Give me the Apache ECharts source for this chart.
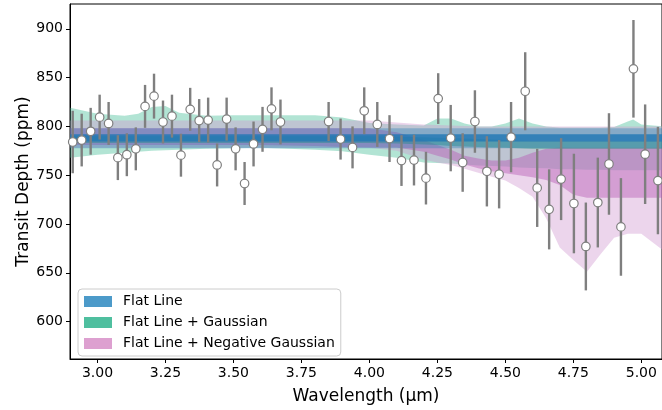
<!DOCTYPE html>
<html><head><meta charset="utf-8">
<script src="https://cdn.jsdelivr.net/npm/echarts@6.0.0/dist/echarts.min.js"></script>
<style>html,body{margin:0;padding:0;background:#fff}#c{width:662px;height:410px}</style>
</head><body><div id="c"></div>
<script>
// ---- observed spectrum ----
const wavelength = [2.909,2.942,2.975,3.008,3.041,3.075,3.108,3.141,3.175,3.208,3.241,3.274,3.307,3.341,3.374,3.407,3.440,3.475,3.508,3.541,3.574,3.607,3.640,3.673,
  3.850,3.894,3.938,3.981,4.029,4.074,4.118,4.164,4.208,4.253,4.299,4.343,4.388,4.432,4.477,4.521,4.573,4.617,4.661,4.705,4.752,4.796,4.840,4.881,4.925,4.971,5.014,5.061];
const depth = [784,786,795,809.5,803,768,771,777,820.5,831,804.5,810.5,770.5,817.5,806,806.5,760.5,807.5,777,741.5,782,797,818,804.5,
  805,787,778.5,816,802,787.5,765,765.5,747,828.5,788,763,805,754,751,789,836,737,715,746,721,677,722,761.5,697,859,771.5,744.5];
const depthErr = [32,27,24,23,22,23,22,22,22,23,22,22,22,22,22,23,22,22,22,22,23,23,22,23,
  20,21,21.5,24,23,24,26,26,27,26,34,30,32,36,35,36,40,40,41,42,51,45,46,52,50,50,51,55];

// ---- tick labels ----
const xTicks = [3.00,3.25,3.50,3.75,4.00,4.25,4.50,4.75,5.00];
const yTicks = [600,650,700,750,800,850,900];

// ---- model posterior bands ----
const flatX = [2.90, 5.08];
const flatInnerLo = [784.5, 784.5];
const flatInnerHi = [792, 792];
const flatOuterLo = [777.5, 777.5];
const flatOuterHi = [798, 798];

const bandX = [2.90,3.00,3.10,3.15,3.20,3.25,3.30,3.40,3.50,3.60,3.70,3.80,3.90,4.00,4.10,4.20,4.25,4.30,4.35,4.40,4.45,4.50,4.55,4.60,4.65,4.70,4.75,4.80,4.85,4.90,4.95,4.97,5.00,5.08];
const gaussOuterHi = [819,813,811,813,820,821,814,811,811.5,811.5,811.5,811.5,809,803.5,802,801,808,808,803,800,800,803,808,803,800,799,799,799,799,799.5,805,807,802,800];
const gaussOuterLo = [768,771,773,774,775,775.5,776,777,777.5,778,777,776,774.5,771,768,763,762.5,762,761,760,759.5,759,758,757.5,757,756,756,755.5,755.5,755,755,755,755,755];
const gaussInnerHi = [790,790,790,790,790,790,790,790,790,790,790,790,790,790,789.5,789,788.5,788,787.5,787,786.5,786,785.5,785,785,785,785,785,785,785,785,785,785,785];
const gaussInnerLo = [783,783,783,783,783,783,783,783,783,783,783,783,783,783,782.5,781.5,781,780,779.5,779,778.5,778,777.5,777,777,777,777,777,777,777,777,777,777,777];
const negOuterHi = [806,806,806,806,806,806,806,806,806,806,806,806,806,806,804,802,801.5,801,800.5,800,800,800,800,800,800,800,800,800,800,800,800,800,800,800];
const negOuterLo = [778,778,778,778,778,778,778,778,778,778,778,778,778,778,775,766,763,760.5,756.5,752.5,748.5,744.5,737,728,706,676,663,651,669,686,690,690,690,673];
const negInnerHi = [798,798,798,798,798,798,798,798,798,798,798,798,798,798,794,786,781,776,770,767,765,765,768,773,777,778.5,778,778,778,778,778,778,778,778];
const negInnerLo = [781,781,781,781,781,781,781,781,781,781,780.5,780,779,778.5,778.5,774,770,766,761,757,754,752,750,748,745,740,730,727,727,727,727,727,727,727];

const FONT = 'DejaVu Sans';

function band(name, xs, lo, hi, color, z) {
  return {
    type: 'custom', name: name, z: z, silent: true, clip: true,
    data: xs.map((x, i) => [x, lo[i], hi[i]]),
    encode: { x: 0, y: [1, 2] },
    renderItem: function (params, api) {
      if (params.dataIndex !== 0) return null;
      const pts = [];
      for (let i = 0; i < xs.length; i++) pts.push(api.coord([xs[i], hi[i]]));
      for (let i = xs.length - 1; i >= 0; i--) pts.push(api.coord([xs[i], lo[i]]));
      return { type: 'polygon', shape: { points: pts }, style: { fill: color } };
    }
  };
}

const chart = echarts.init(document.getElementById('c'), null, { renderer: 'canvas' });
chart.setOption({
  animation: false,
  backgroundColor: '#fff',
  grid: { left: 70, right: 0, top: 4, bottom: 47, show: true, borderColor: '#000', borderWidth: 1, backgroundColor: 'transparent' },
  legend: {
    left: 78, top: 289, orient: 'vertical',
    itemWidth: 28, itemHeight: 11, itemGap: 6,
    padding: [5, 6, 5, 6],
    backgroundColor: 'rgba(255,255,255,0.85)', borderColor: '#cccccc', borderWidth: 1, borderRadius: 4,
    textStyle: { fontFamily: FONT, fontSize: 14, color: '#000', lineHeight: 15, padding: [0, 0, 0, 6] },
    data: [
      { name: 'Flat Line', icon: 'rect', itemStyle: { color: '#4c9ac9' } },
      { name: 'Flat Line + Gaussian', icon: 'rect', itemStyle: { color: '#4fbf9f' } },
      { name: 'Flat Line + Negative Gaussian', icon: 'rect', itemStyle: { color: '#dda0d0' } }
    ]
  },
  xAxis: {
    type: 'value', min: 2.899, max: 5.076,
    name: 'Wavelength (µm)', nameLocation: 'middle', nameGap: 29, nameMoveOverlap: false,
    nameTextStyle: { fontFamily: FONT, fontSize: 17, color: '#000' },
    axisLine: { lineStyle: { color: '#000', width: 1 } },
    axisTick: { show: true, length: 4, customValues: xTicks, lineStyle: { color: '#000' } },
    axisLabel: { customValues: xTicks, formatter: v => v.toFixed(2), fontFamily: FONT, fontSize: 14, color: '#000', margin: 7 },
    splitLine: { show: false }
  },
  yAxis: {
    type: 'value', min: 561.7, max: 925.4,
    name: 'Transit Depth (ppm)', nameLocation: 'middle', nameGap: 38, nameRotate: 90, nameMoveOverlap: false,
    nameTextStyle: { fontFamily: FONT, fontSize: 17, color: '#000' },
    axisLine: { show: true, lineStyle: { color: '#000', width: 1 } },
    axisTick: { show: true, length: 4, customValues: yTicks, lineStyle: { color: '#000' } },
    axisLabel: { customValues: yTicks, formatter: v => String(v), fontFamily: FONT, fontSize: 14, color: '#000', margin: 7 },
    splitLine: { show: false }
  },
  series: [
    band('Flat Line + Gaussian', bandX, gaussOuterLo, gaussOuterHi, 'rgba(84,196,160,0.45)', 1),
    band('Flat Line + Negative Gaussian', bandX, negOuterLo, negOuterHi, 'rgba(208,150,208,0.4)', 2),
    band('Flat Line + Negative Gaussian', bandX, negInnerLo, negInnerHi, 'rgba(185,90,182,0.45)', 3),
    band('Flat Line + Gaussian', bandX, gaussInnerLo, gaussInnerHi, 'rgba(30,150,120,0.45)', 4),
    band('Flat Line', flatX, flatOuterLo, flatOuterHi, 'rgba(31,119,180,0.35)', 5),
    band('Flat Line', flatX, flatInnerLo, flatInnerHi, 'rgba(31,119,180,0.8)', 6),
    {
      type: 'custom', name: 'errors', z: 8, silent: true, clip: true,
      data: wavelength.map((x, i) => [x, depth[i] - depthErr[i], depth[i] + depthErr[i]]),
      encode: { x: 0, y: [1, 2] },
      renderItem: function (params, api) {
        const a = api.coord([api.value(0), api.value(1)]);
        const b = api.coord([api.value(0), api.value(2)]);
        return { type: 'line', shape: { x1: a[0], y1: a[1], x2: b[0], y2: b[1] }, style: { stroke: '#7f7f7f', lineWidth: 2.4 } };
      }
    },
    {
      type: 'scatter', name: 'data', z: 9, silent: true,
      data: wavelength.map((x, i) => [x, depth[i]]),
      symbol: 'circle', symbolSize: 8.5,
      itemStyle: { color: '#ffffff', borderColor: '#7f7f7f', borderWidth: 1.2, opacity: 1 }
    }
  ]
});
</script></body></html>
